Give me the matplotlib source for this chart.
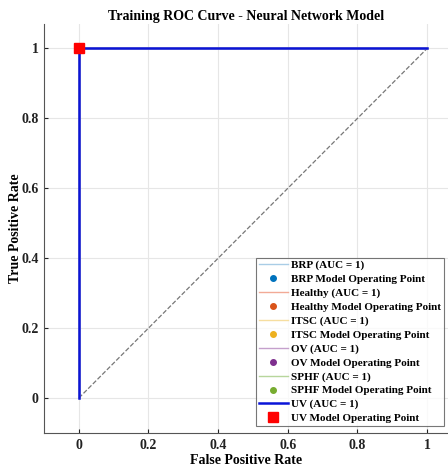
import numpy as np
import matplotlib.pyplot as plt

plt.rcParams['font.family'] = ['Liberation Serif', 'DejaVu Serif']
plt.rcParams['font.weight'] = 'bold'

classes = ['BRP', 'Healthy', 'ITSC', 'OV', 'SPHF', 'UV']
auc = [1, 1, 1, 1, 1, 1]
fpr = [0, 0, 1]
tpr = [0, 1, 1]
op_fpr = [0, 0, 0, 0, 0, 0]
op_tpr = [1, 1, 1, 1, 1, 1]
line_colors = ['#a9cde6', '#f2aa96', '#f6dea0', '#c5a0cc', '#b7d69c', '#0a14d8']
pt_colors = ['#0072bd', '#d95319', '#edb120', '#7e2f8e', '#77ac30', '#ff0000']

fig = plt.figure(figsize=(4.48, 4.72), dpi=100)
ax = fig.add_axes([44/448, 39/472, 1 - 44/448, 1 - 39/472 - 24/472])

ax.plot([0, 1], [0, 1], '--', color='#777777', lw=0.9)
for i, c in enumerate(classes):
    lw = 1.8 if c == 'UV' else 1.0
    ax.plot(fpr, tpr, color=line_colors[i], lw=lw, label=f'{c} (AUC = {auc[i]})')
    if c == 'UV':
        ax.plot(op_fpr[i], op_tpr[i], 's', color=pt_colors[i], ms=7,
                label=f'{c} Model Operating Point')
    else:
        ax.plot(op_fpr[i], op_tpr[i], 'o', color=pt_colors[i], ms=4,
                label=f'{c} Model Operating Point')

ax.set_xlim(-0.1, 1.06)
ax.set_ylim(-0.1, 1.07)
ax.set_xticks([0, 0.2, 0.4, 0.6, 0.8, 1])
ax.set_xticklabels(['0', '0.2', '0.4', '0.6', '0.8', '1'])
ax.set_yticks([0, 0.2, 0.4, 0.6, 0.8, 1])
ax.set_yticklabels(['0', '0.2', '0.4', '0.6', '0.8', '1'])
ax.grid(True, color='#e6e6e6', lw=0.8)
ax.set_axisbelow(True)
for s in ['top', 'right']:
    ax.spines[s].set_visible(False)
for s in ['left', 'bottom']:
    ax.spines[s].set_color('#555555')
ax.tick_params(direction='in', length=3, pad=4, labelsize=10, colors='#222222')
ax.set_xlabel('False Positive Rate', fontsize=10, fontweight='bold', labelpad=2)
ax.set_ylabel('True Positive Rate', fontsize=10, fontweight='bold', labelpad=-1)
ax.set_title('Training ROC Curve - Neural Network Model', fontsize=10, fontweight='bold', pad=3)

leg = ax.legend(loc='lower right', bbox_to_anchor=(0.99, 0.017), fontsize=8,
                frameon=True, fancybox=False, edgecolor='#555555', borderpad=0.25,
                labelspacing=0.36, handlelength=2.6, handletextpad=0.3, borderaxespad=0)
leg.get_frame().set_linewidth(0.8)

fig.savefig('out.png', dpi=100)
